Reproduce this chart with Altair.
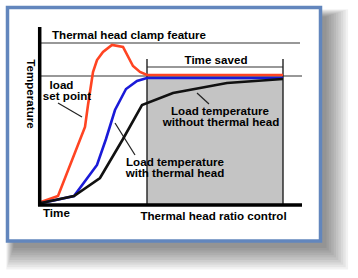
import altair as alt
import pandas as pd

# ---- curves: time (arbitrary units) vs temperature (arbitrary units) ----
setpoint_t = [1, 18, 45, 48, 53, 57, 63, 72, 83, 93, 100, 107, 243]
setpoint_T = [2, 8, 77, 99, 132, 144, 152, 159, 157, 138, 132, 129, 129]
with_head_t = [2, 34, 57, 66, 75, 86, 97, 107, 243]
with_head_T = [1, 8, 39, 65, 94, 115, 123, 126, 126]
without_head_t = [1, 34, 60, 83, 102, 133, 187, 243]
without_head_T = [1, 8, 26, 65, 99, 111, 121, 125]

series_names = ["load set point", "with thermal head", "without thermal head"]
series_colors = ["#ff4422", "#1a1ad8", "#111111"]

# ---- reference levels and the ratio-control window ----
clamp_level = 161
setpoint_level = 128
bracket_level = 137
tick_top = 145
ratio_start = 107
ratio_end = 243
axis_end = 262
y_axis_top = 177

# ---- leader lines from labels to curves ----
leader_t1 = [18, 75, 157]
leader_T1 = [101, 81, 111]
leader_t2 = [42, 95, 169]
leader_T2 = [87, 49, 100]

# ---- labels ----
center_text = ["Time saved", "load", "set point",
               "Load temperature", "without thermal head",
               "Load temperature", "with thermal head",
               "Thermal head ratio control"]
center_t = [176, 21.5, 27, 180, 181, 135, 135, 173.5]
center_T = [143, 118.3, 106.7, 92.3, 80.7, 41.3, 29.7, -13]
left_text = ["Thermal head clamp feature", "Time"]
left_t = [12, 3]
left_T = [168, -10]

# ---- card frame ----
frame_t = [-32.5, 280.5]
frame_T = [-37, 196.5]

X = alt.Scale(domain=[-40, 318], nice=False, zero=False)
Y = alt.Scale(domain=[-74, 204], nice=False, zero=False)
FONT = "Liberation Sans"
FONT_SIZE = 11.6


def xq(f):
    return alt.X(f, type="quantitative", scale=X, axis=None)


def yq(f):
    return alt.Y(f, type="quantitative", scale=Y, axis=None)


# soft drop shadow built from stacked translucent rectangles
shadow = pd.DataFrame({
    "a": [frame_t[0] + 6 - k * 0.8 for k in range(10)],
    "b": [frame_t[1] + 6 + k * 2.4 for k in range(10)],
    "c": [frame_T[0] - 7 - k * 2.4 for k in range(10)],
    "d": [frame_T[1] - 9 + k * 0.8 for k in range(10)],
})
shadow_layer = alt.Chart(shadow).mark_rect(color="#000000", opacity=0.05).encode(
    x=xq("a"), x2="b", y=yq("c"), y2="d")

frame = pd.DataFrame({"a": [frame_t[0]], "b": [frame_t[1]],
                      "c": [frame_T[0]], "d": [frame_T[1]]})
frame_layer = alt.Chart(frame).mark_rect(
    fill="white", stroke="#6286bd", strokeWidth=3.5).encode(
    x=xq("a"), x2="b", y=yq("c"), y2="d")

window = pd.DataFrame({"a": [ratio_start], "b": [ratio_end],
                       "c": [0], "d": [setpoint_level]})
window_layer = alt.Chart(window).mark_rect(fill="#c4c4c4").encode(
    x=xq("a"), x2="b", y=yq("c"), y2="d")

levels = pd.DataFrame({
    "a": [0, 0, ratio_start],
    "b": [axis_end - 2, axis_end, ratio_end],
    "y": [clamp_level, setpoint_level, bracket_level],
})
levels_layer = alt.Chart(levels).mark_rule(color="#333333", strokeWidth=1.2).encode(
    x=xq("a"), x2="b", y=yq("y"))

ticks = pd.DataFrame({"x": [ratio_start, ratio_end], "c": [0, 0],
                      "d": [tick_top, tick_top]})
ticks_layer = alt.Chart(ticks).mark_rule(color="#222222", strokeWidth=1.4).encode(
    x=xq("x"), y=yq("c"), y2="d")

leaders = pd.DataFrame({"a": leader_t1, "b": leader_t2,
                        "c": leader_T1, "d": leader_T2})
leaders_layer = alt.Chart(leaders).mark_rule(color="#222222", strokeWidth=1.2).encode(
    x=xq("a"), x2="b", y=yq("c"), y2="d")

rows = []
for name, ts, Ts in zip(series_names,
                        [setpoint_t, with_head_t, without_head_t],
                        [setpoint_T, with_head_T, without_head_T]):
    for i, (t, T) in enumerate(zip(ts, Ts)):
        rows.append({"series": name, "t": t, "T": T, "i": i})
curves = pd.DataFrame(rows)
curves_layer = alt.Chart(curves).mark_line(strokeWidth=2.6).encode(
    x=xq("t"), y=yq("T"),
    color=alt.Color("series:N", scale=alt.Scale(domain=series_names,
                                                range=series_colors), legend=None),
    order="i:Q")

axes = pd.DataFrame({"a": [-2, -0.3], "b": [axis_end, -0.3],
                     "c": [-1, -2], "d": [-1, y_axis_top]})
axes_layer = alt.Chart(axes).mark_rule(color="#000000", strokeWidth=3.5).encode(
    x=xq("a"), x2="b", y=yq("c"), y2="d")

ctext = pd.DataFrame({"t": center_t, "T": center_T, "label": center_text})
ctext_layer = alt.Chart(ctext).mark_text(
    font=FONT, fontSize=FONT_SIZE, fontWeight="bold", color="#000000",
    align="center", baseline="middle").encode(
    x=xq("t"), y=yq("T"), text="label:N")

ltext = pd.DataFrame({"t": left_t, "T": left_T, "label": left_text})
ltext_layer = alt.Chart(ltext).mark_text(
    font=FONT, fontSize=FONT_SIZE, fontWeight="bold", color="#000000",
    align="left", baseline="middle").encode(
    x=xq("t"), y=yq("T"), text="label:N")

ytext = pd.DataFrame({"t": [-10], "T": [110], "label": ["Temperature"]})
ytext_layer = alt.Chart(ytext).mark_text(
    font=FONT, fontSize=FONT_SIZE, fontWeight="bold", color="#000000",
    align="center", baseline="middle", angle=90).encode(
    x=xq("t"), y=yq("T"), text="label:N")

chart = alt.layer(
    shadow_layer, frame_layer, window_layer, levels_layer, ticks_layer,
    leaders_layer, curves_layer, axes_layer, ctext_layer, ltext_layer, ytext_layer,
).properties(
    width=358, height=278, padding=0, autosize=alt.AutoSizeParams(type="none"),
    background="white",
).configure_view(stroke=None)

chart.save("out.html", embed_options={"renderer": "svg", "actions": False})
